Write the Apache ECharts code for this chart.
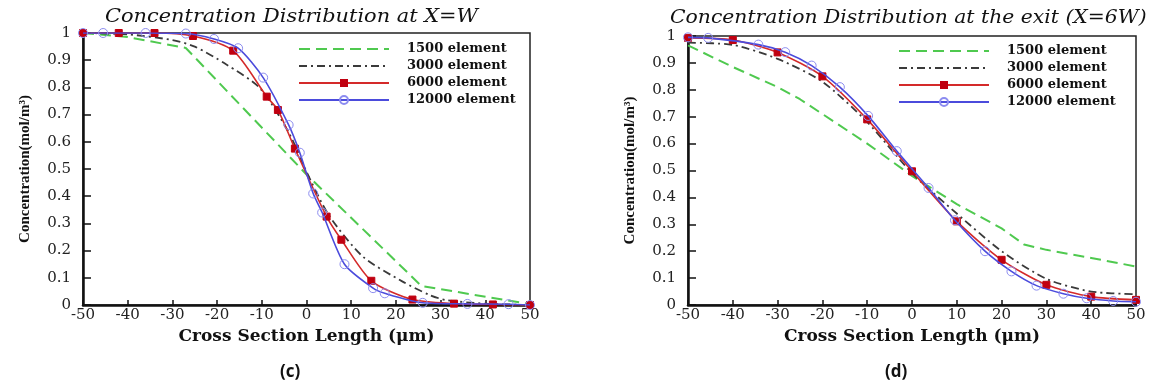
<!DOCTYPE html>
<html>
<head>
<meta charset="utf-8">
<script src="https://cdn.jsdelivr.net/npm/echarts@6/dist/echarts.min.js"></script>
<style>html,body{margin:0;padding:0;background:#fff;}#chart{width:1157px;height:390px;}</style>
</head>
<body>
<div id="chart"></div>
<script>
// ---- Data (c): Concentration Distribution at X=W ----
const seriesNames = ['1500 element', '3000 element', '6000 element', '12000 element'];
const c1500 = [[-50,1],[-40,0.985],[-27,0.945],[0,0.48],[25.7,0.07],[50,0.003]];
const c3000 = [[-50,1],[-40,0.995],[-30,0.974],[-25,0.95],[-18,0.885],[-10.4,0.797],[-4,0.635],[0,0.49],[5,0.33],[12.6,0.178],[21.5,0.086],[27.5,0.037],[31.2,0.018],[40,0.005],[50,0]];
const c6000 = [[-50,1],[-42,1],[-34,1],[-25.4,0.989],[-16.4,0.935],[-8.9,0.766],[-6.4,0.717],[-2.6,0.575],[4.5,0.325],[7.8,0.24],[14.5,0.089],[23.7,0.02],[33,0.005],[41.7,0.002],[50,0]];
const c12000 = [[-50,1],[-45.5,1],[-36,1],[-27,0.998],[-20.7,0.978],[-15.3,0.944],[-9.7,0.836],[-4,0.662],[-1.5,0.56],[1.5,0.41],[3.5,0.34],[8.5,0.15],[14.9,0.062],[17.5,0.043],[26,0.008],[36,0.004],[45.2,0.003],[50,0]];
// ---- Data (d): Concentration Distribution at the exit (X=6W) ----
const d1500 = [[-50,0.965],[-40,0.885],[-30,0.81],[-25,0.765],[-20,0.71],[-10,0.6],[0,0.48],[10,0.375],[20,0.285],[25,0.225],[30,0.205],[40,0.175],[50,0.143]];
const d3000 = [[-50,0.975],[-40,0.967],[-30,0.915],[-20,0.83],[-10,0.68],[0,0.49],[10,0.34],[20,0.2],[30,0.097],[40,0.05],[50,0.04]];
const d6000 = [[-50,0.993],[-40,0.985],[-30,0.939],[-20,0.85],[-10,0.69],[0,0.497],[10,0.311],[20,0.168],[30,0.075],[40,0.031],[50,0.019]];
const d12000 = [[-50,0.995],[-45.5,0.993],[-34.3,0.968],[-28.3,0.94],[-22.4,0.89],[-16.1,0.81],[-9.8,0.703],[-3.4,0.572],[3.7,0.435],[9.6,0.315],[16.3,0.2],[22.2,0.125],[27.8,0.072],[33.8,0.042],[39,0.025],[44.9,0.015],[50,0.012]];
// ---- Axes / text ----
const xMin = -50, xMax = 50, xStep = 10;
const yMin = 0, yMax = 1, yStep = 0.1;
const titles = ['Concentration Distribution at X=W', 'Concentration Distribution at the exit (X=6W)'];
const xName = 'Cross Section Length (\u03bcm)';
const yName = 'Concentration(mol/m\u00b3)';
const panelLabels = ['(c)', '(d)'];

const chart = echarts.init(document.getElementById('chart'), null, {renderer: 'canvas'});

const tickFont = 'DejaVu Serif';
const grids = [
  {left: 83, right: 627, top: 33, bottom: 85},
  {left: 688, right: 21, top: 36, bottom: 85}
];

function xAxis(i) {
  return {
    type: 'value', gridIndex: i, min: xMin, max: xMax, interval: xStep,
    name: xName, nameLocation: 'middle', nameGap: 18,
    nameTextStyle: {fontFamily: 'DejaVu Serif', fontWeight: 'bold', fontSize: 17, color: '#111'},
    axisLine: {show: true, onZero: false, lineStyle: {color: '#111', width: 2.5}},
    axisTick: {show: true, inside: true, length: 5, lineStyle: {color: '#111', width: 1.5}},
    axisLabel: {fontFamily: tickFont, fontSize: 15, color: '#222', margin: 3},
    splitLine: {show: false}
  };
}
function yAxis(i) {
  return {
    type: 'value', gridIndex: i, min: yMin, max: yMax, interval: yStep,
    name: yName, nameLocation: 'middle', nameGap: 50,
    nameTextStyle: {fontFamily: 'Liberation Serif', fontWeight: 'bold', fontSize: 15, color: '#111'},
    axisLine: {show: true, onZero: false, lineStyle: {color: '#111', width: 2.5}},
    axisTick: {show: true, inside: true, length: 8, lineStyle: {color: '#111', width: 1.5}},
    axisLabel: {fontFamily: tickFont, fontSize: 15, color: '#222', margin: 12,
      formatter: v => (Math.round(v * 10) / 10).toString()},
    splitLine: {show: false}
  };
}

const styles = [
  {color: '#4fc94f', type: [11, 6], width: 2, symbol: 'none', smooth: false},
  {color: '#3a3a3a', type: [8, 4, 2, 4], width: 1.8, symbol: 'none', smooth: 0.25},
  {color: '#d42a2a', type: 'solid', width: 1.6, symbol: 'rect', symbolSize: 7, smooth: 0.25,
    itemStyle: {color: '#c00010', borderColor: '#c00010'}},
  {color: '#4b4bdc', type: 'solid', width: 1.6, symbol: 'circle', symbolSize: 9, smooth: 0.25,
    itemStyle: {color: 'rgba(255,255,255,0)', borderColor: '#8c8cf0', borderWidth: 1}}
];

function makeSeries(data, idx, gi) {
  const s = styles[idx];
  return {
    type: 'line', name: seriesNames[idx], xAxisIndex: gi, yAxisIndex: gi,
    data: data, smooth: s.smooth,
    showSymbol: s.symbol !== 'none', symbol: s.symbol, symbolSize: s.symbolSize || 0,
    lineStyle: {color: s.color, type: s.type, width: s.width},
    itemStyle: s.itemStyle || {color: s.color},
    color: s.color,
    z: 2 + idx, animation: false
  };
}

const series = [];
[c1500, c3000, c6000, c12000].forEach((d, i) => series.push(makeSeries(d, i, 0)));
[d1500, d3000, d6000, d12000].forEach((d, i) => series.push(makeSeries(d, i, 1)));

function legend(left, top) {
  return {
    orient: 'vertical', left: left, top: top,
    itemWidth: 90, itemHeight: 10, itemGap: 3,
    data: seriesNames.map((n, i) => styles[i].symbol === 'none'
      ? {name: n, itemStyle: {opacity: 0, color: 'transparent', borderColor: 'transparent'}}
      : {name: n}),
    textStyle: {fontFamily: 'DejaVu Serif', fontWeight: 'bold', fontSize: 13, color: '#111',
      lineHeight: 14, padding: [0, 0, 0, 13]}
  };
}

const option = {
  animation: false,
  backgroundColor: '#fff',
  grid: grids.map(g => Object.assign({show: true, borderColor: '#222', borderWidth: 1.5, backgroundColor: 'transparent'}, g)),
  xAxis: [xAxis(0), xAxis(1)],
  yAxis: [yAxis(0), yAxis(1)],
  legend: [legend(293, 37), legend(893, 39)],
  series: series,
  graphic: [
    {type: 'text', left: 105, top: 8, scaleX: 1.16, style: {text: titles[0], fontFamily: 'DejaVu Serif', fontStyle: 'italic', fontSize: 18, fill: '#111'}},
    {type: 'text', left: 670, top: 9, scaleX: 1.13, style: {text: titles[1], fontFamily: 'DejaVu Serif', fontStyle: 'italic', fontSize: 18, fill: '#111'}},
    {type: 'text', left: 280, top: 364, style: {text: panelLabels[0], fontFamily: 'Open Sans', fontWeight: 'bold', fontSize: 17, fill: '#111'}},
    {type: 'text', left: 885, top: 364, style: {text: panelLabels[1], fontFamily: 'Open Sans', fontWeight: 'bold', fontSize: 17, fill: '#111'}}
  ]
};
chart.setOption(option);
</script>
</body>
</html>
